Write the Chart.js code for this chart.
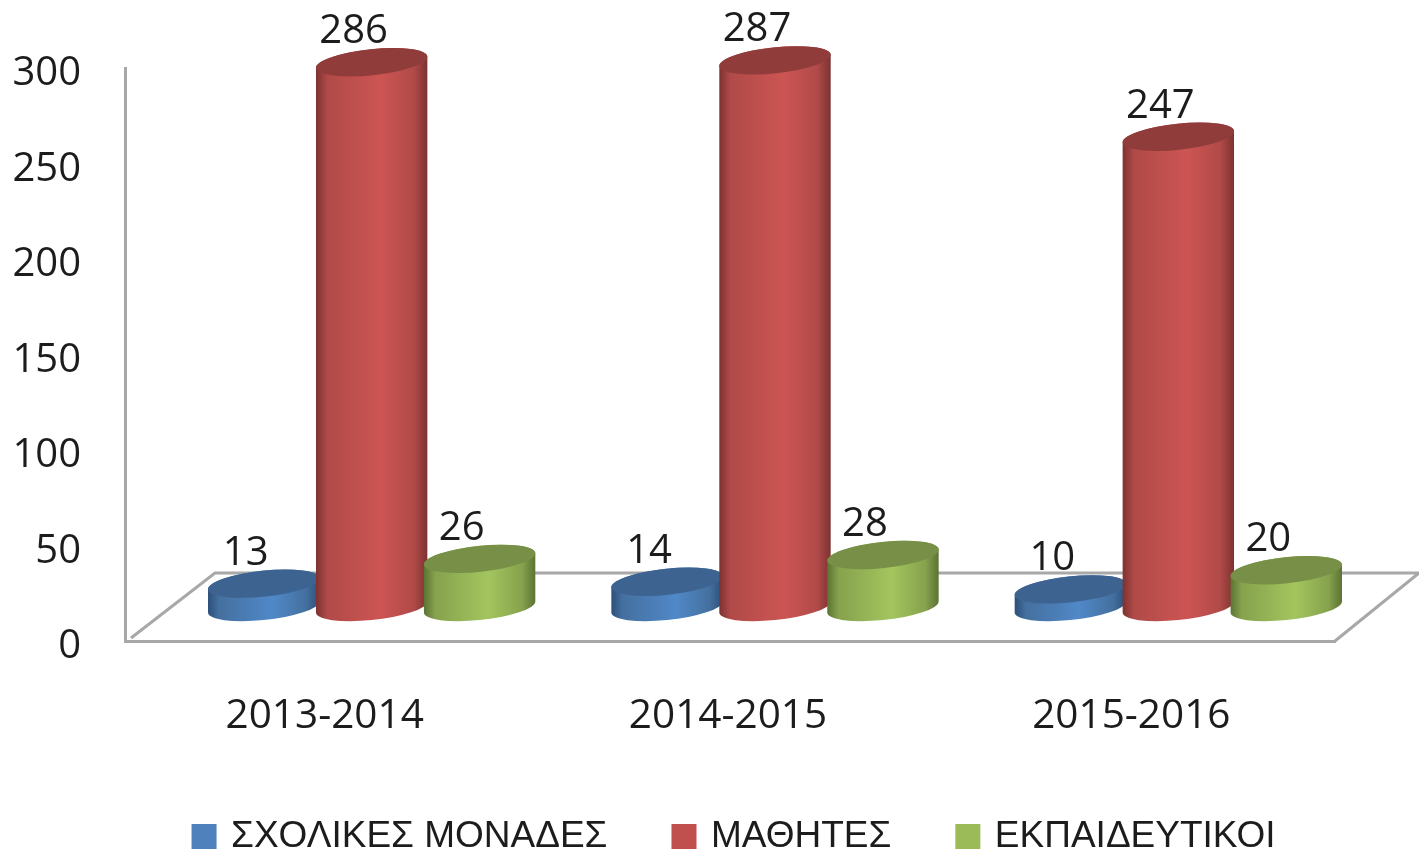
<!DOCTYPE html>
<html>
<head>
<meta charset="utf-8">
<script src="https://cdn.jsdelivr.net/npm/chart.js@4/dist/chart.umd.min.js"></script>
<style>
html,body{margin:0;padding:0;background:#fff;overflow:hidden}
canvas{display:block;filter:blur(0.6px)}
</style>
</head>
<body>
<canvas id="c" width="1419" height="853"></canvas>
<script>
const categories = ["2013-2014", "2014-2015", "2015-2016"];
const schools = [13, 14, 10];
const students = [286, 287, 247];
const teachers = [26, 28, 20];
const seriesNames = ["ΣΧΟΛΙΚΕΣ ΜΟΝΑΔΕΣ", "ΜΑΘΗΤΕΣ", "ΕΚΠΑΙΔΕΥΤΙΚΟΙ"];
const yTicks = [0, 50, 100, 150, 200, 250, 300];

const TEXT = "#1c1c1c", AXIS = "#a8a8a8";
const NUM_FONT = '"Open Sans", sans-serif';
const DEPTH_X = 90, DEPTH_Y = 68;

const palette = [
  {flat:"#4f81bd", edge:"#2d4f7a", mid:"#44709f", light:"#5088c8", cap:"#3d6391"},
  {flat:"#c0504d", edge:"#7c3231", mid:"#b04a48", light:"#cc5553", cap:"#8f3c3a"},
  {flat:"#9bbb59", edge:"#5c7333", mid:"#86a24d", light:"#a3c55e", cap:"#778f46"}
];

function cylinder(ctx, cx, topY, baseY, rx, ry, c) {
  const rot = -6 * Math.PI / 180;
  const t0 = Math.atan2(-ry * Math.sin(rot), rx * Math.cos(rot));
  const halfW = Math.hypot(rx * Math.cos(rot), ry * Math.sin(rot));
  const g = ctx.createLinearGradient(cx - halfW, 0, cx + halfW, 0);
  g.addColorStop(0, c.edge);
  g.addColorStop(0.1, c.mid);
  g.addColorStop(0.58, c.light);
  g.addColorStop(0.88, c.mid);
  g.addColorStop(1, c.edge);
  ctx.beginPath();
  ctx.ellipse(cx, baseY, rx, ry, rot, t0, t0 + Math.PI);
  ctx.ellipse(cx, topY, rx, ry, rot, t0 + Math.PI, t0 + 2 * Math.PI);
  ctx.closePath();
  ctx.fillStyle = g;
  ctx.fill();
  ctx.beginPath();
  ctx.ellipse(cx, topY, rx, ry, rot, 0, 2 * Math.PI);
  ctx.fillStyle = c.cap;
  ctx.fill();
}

const cylinders = {
  id: "cylinders",
  afterLayout(chart) {
    chart.legend.right += 136;
    chart.legend.top = 750;
  },
  beforeDatasetDraw() { return false; },
  beforeDatasetsDraw(chart) {
    const ctx = chart.ctx, a = chart.chartArea;
    ctx.save();
    ctx.strokeStyle = AXIS;
    ctx.lineWidth = 3;
    ctx.beginPath();
    ctx.moveTo(a.left + 6, a.bottom - 3);
    ctx.lineTo(a.left + DEPTH_X, a.bottom - DEPTH_Y);
    ctx.lineTo(1419, a.bottom - DEPTH_Y);
    ctx.moveTo(a.right, a.bottom);
    ctx.lineTo(a.right + DEPTH_X - 6, a.bottom - DEPTH_Y);
    ctx.stroke();

    chart.data.datasets.forEach((ds, i) => {
      chart.getDatasetMeta(i).data.forEach(bar => {
        const rx = bar.width / 2 + 2;
        cylinder(ctx, bar.x + DEPTH_X / 2, bar.y - DEPTH_Y / 2 + 1.5, bar.base - DEPTH_Y / 2, rx, 13, palette[i]);
      });
    });
    ctx.fillStyle = TEXT;
    ctx.font = '40px ' + NUM_FONT;
    ctx.textAlign = "center";
    ctx.textBaseline = "middle";
    chart.data.datasets.forEach((ds, i) => {
      chart.getDatasetMeta(i).data.forEach((bar, j) => {
        ctx.fillText(String(ds.data[j]), bar.x + DEPTH_X / 2 - 18, bar.y - DEPTH_Y / 2 - 29);
      });
    });
    ctx.restore();
  }
};

new Chart(document.getElementById("c"), {
  type: "bar",
  data: {
    labels: categories,
    datasets: [schools, students, teachers].map((d, i) => ({
      label: seriesNames[i],
      data: d,
      backgroundColor: palette[i].flat,
      borderColor: palette[i].flat,
      borderWidth: 8,
      categoryPercentage: 0.803,
      barPercentage: 1
    }))
  },
  options: {
    responsive: false,
    animation: false,
    layout: {padding: {top: 68, left: 0, right: 84, bottom: 0}},
    plugins: {
      tooltip: {enabled: false},
      legend: {
        position: "bottom",
        labels: {
          boxWidth: 17, boxHeight: 17, padding: 68, color: TEXT,
          font: {family: '"Liberation Sans", sans-serif', size: 37}
        }
      }
    },
    scales: {
      x: {
        grid: {display: false, drawTicks: false},
        border: {display: true, color: AXIS, width: 3},
        ticks: {color: TEXT, font: {family: NUM_FONT, size: 40.5}, padding: 51, maxRotation: 0, labelOffset: -2},
        afterFit(s) { s.height = Math.max(10, 212 - s.chart.legend.height); }
      },
      y: {
        min: 0, max: 300,
        grid: {display: false, drawTicks: false},
        border: {display: true, color: AXIS, width: 3},
        afterBuildTicks(s) { s.ticks = yTicks.map(v => ({value: v})); },
        ticks: {color: TEXT, font: {family: NUM_FONT, size: 40}, padding: 44, labelOffset: 6},
        afterFit(s) { s.width = 125; }
      }
    }
  },
  plugins: [cylinders]
});
</script>
</body>
</html>
